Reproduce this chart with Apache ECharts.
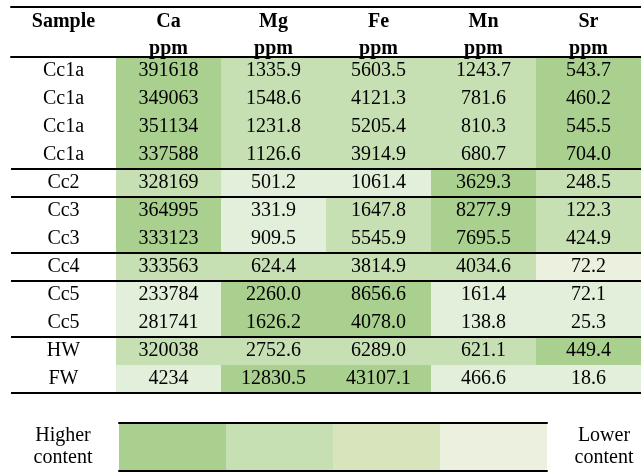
<!DOCTYPE html>
<html>
<head>
<meta charset="utf-8">
<script src="https://cdn.jsdelivr.net/npm/echarts@6.0.0/dist/echarts.min.js"></script>
<style>
  html, body { margin: 0; padding: 0; background: #fff; }
  #chart { width: 641px; height: 473px; }
</style>
</head>
<body>
<div id="chart"></div>
<script>
// ===== 表格数据 =====
const columns = ['Sample', 'Ca', 'Mg', 'Fe', 'Mn', 'Sr'];
const samples = ['Cc1a', 'Cc1a', 'Cc1a', 'Cc1a', 'Cc2', 'Cc3', 'Cc3', 'Cc4', 'Cc5', 'Cc5', 'HW', 'FW'];
const ca = ['391618', '349063', '351134', '337588', '328169', '364995', '333123', '333563', '233784', '281741', '320038', '4234'];
const mg = ['1335.9', '1548.6', '1231.8', '1126.6', '501.2', '331.9', '909.5', '624.4', '2260.0', '1626.2', '2752.6', '12830.5'];
const fe = ['5603.5', '4121.3', '5205.4', '3914.9', '1061.4', '1647.8', '5545.9', '3814.9', '8656.6', '4078.0', '6289.0', '43107.1'];
const mn = ['1243.7', '781.6', '810.3', '680.7', '3629.3', '8277.9', '7695.5', '4034.6', '161.4', '138.8', '621.1', '466.6'];
const sr = ['543.7', '460.2', '545.5', '704.0', '248.5', '122.3', '424.9', '72.2', '72.1', '25.3', '449.4', '18.6'];

// 含量等级 (0 = 最高)
const caLevel = [0, 0, 0, 0, 1, 0, 0, 1, 2, 2, 1, 2];
const mgLevel = [1, 1, 1, 1, 2, 2, 2, 1, 0, 0, 1, 0];
const feLevel = [1, 1, 1, 1, 2, 1, 1, 1, 0, 0, 1, 0];
const mnLevel = [1, 1, 1, 1, 0, 0, 0, 1, 2, 2, 1, 2];
const srLevel = [0, 0, 0, 0, 1, 1, 1, 3, 2, 2, 0, 2];

// 分组分隔线（在这些行之后）
const groupEnds = [3, 4, 6, 7, 9, 11];

const cellColors = ['#a9d08e', '#c6e0b4', '#e2efda', '#ebf1de'];
const legendLevels = ['h1', 'h2', 'h3', 'h4'];
const legendColors = ['#a9d08e', '#c6e0b4', '#d8e4bc', '#ebf1de'];

const FONT = '"Liberation Serif", "Times New Roman", serif';
const FS = 20;

// 构建单元格
const valueCols = [ca, mg, fe, mn, sr];
const levelCols = [caLevel, mgLevel, feLevel, mnLevel, srLevel];
const cells = [];
samples.forEach((s, r) => {
  cells.push([0, r, s, -1]);
  valueCols.forEach((col, c) => {
    cells.push([c + 1, r, col[r], levelCols[c][r]]);
  });
});

const chart = echarts.init(document.getElementById('chart'));

const option = {
  animation: false,
  grid: [
    { left: 11, top: 57, width: 642, height: 336 },
    { left: 119, top: 423, width: 428, height: 48 }
  ],
  xAxis: [
    {
      gridIndex: 0, type: 'category', data: columns, position: 'top', z: 10,
      axisLine: { lineStyle: { color: '#000', width: 2 } },
      axisTick: { show: false },
      axisLabel: {
        margin: -5,
        formatter: v => v === 'Sample' ? '{b|Sample}\n{b| }' : '{b|' + v + '}\n{b|ppm}',
        rich: { b: { fontFamily: FONT, fontWeight: 'bold', fontSize: FS, lineHeight: 27, color: '#000' } }
      }
    },
    {
      gridIndex: 0, type: 'category', data: columns, position: 'top', offset: 50, z: 10,
      axisLine: { lineStyle: { color: '#000', width: 2 } },
      axisTick: { show: false }, axisLabel: { show: false }
    },
    {
      gridIndex: 1, type: 'category', data: legendLevels, position: 'top', z: 10,
      axisLine: { lineStyle: { color: '#000', width: 2 } },
      axisTick: { show: false }, axisLabel: { show: false }
    },
    {
      gridIndex: 1, type: 'category', data: legendLevels, position: 'bottom', z: 10,
      axisLine: { lineStyle: { color: '#000', width: 2 } },
      axisTick: { show: false }, axisLabel: { show: false }
    }
  ],
  yAxis: [
    { gridIndex: 0, type: 'category', data: samples.map((s, i) => i), inverse: true, show: false },
    {
      gridIndex: 1, type: 'category', data: ['Higher content'], position: 'left',
      axisLine: { show: false }, axisTick: { show: false },
      axisLabel: { align: 'center', margin: 56, fontFamily: FONT, fontSize: FS, lineHeight: 22, color: '#000',
        formatter: () => 'Higher\ncontent' }
    },
    {
      gridIndex: 1, type: 'category', data: ['Lower content'], position: 'right',
      axisLine: { show: false }, axisTick: { show: false },
      axisLabel: { align: 'center', margin: 57, fontFamily: FONT, fontSize: FS, lineHeight: 22, color: '#000',
        formatter: () => 'Lower\ncontent' }
    }
  ],
  series: [
    {
      type: 'custom',
      xAxisIndex: 0, yAxisIndex: 0,
      data: cells,
      renderItem: function (params, api) {
        const c = api.value(0), r = api.value(1);
        const pt = api.coord([c, r]);
        const sz = api.size([1, 1]);
        const lvl = cells[params.dataIndex][3];
        const children = [];
        if (lvl >= 0) {
          children.push({
            type: 'rect',
            shape: { x: pt[0] - sz[0] / 2, y: pt[1] - sz[1] / 2, width: sz[0], height: sz[1] },
            style: { fill: cellColors[lvl] }
          });
        }
        children.push({
          type: 'text',
          style: {
            x: pt[0], y: pt[1], text: cells[params.dataIndex][2],
            align: 'center', verticalAlign: 'middle',
            font: FS + 'px ' + FONT, fill: '#000'
          }
        });
        return { type: 'group', children: children };
      }
    },
    {
      type: 'custom',
      xAxisIndex: 0, yAxisIndex: 0, z: 5,
      data: groupEnds.map(r => [0, r]),
      renderItem: function (params, api) {
        const pt = api.coord([0, api.value(1)]);
        const h = api.size([1, 1])[1];
        const cs = params.coordSys;
        const y = pt[1] + h / 2;
        return {
          type: 'line',
          shape: { x1: cs.x, y1: y, x2: cs.x + cs.width, y2: y },
          style: { stroke: '#000', lineWidth: 2 }
        };
      }
    },
    {
      type: 'custom',
      xAxisIndex: 2, yAxisIndex: 1,
      data: legendLevels.map((l, i) => [i, 0]),
      renderItem: function (params, api) {
        const pt = api.coord([api.value(0), 0]);
        const sz = api.size([1, 1]);
        return {
          type: 'rect',
          shape: { x: pt[0] - sz[0] / 2, y: pt[1] - sz[1] / 2, width: sz[0], height: sz[1] },
          style: { fill: legendColors[params.dataIndex] }
        };
      }
    }
  ]
};

chart.setOption(option);
</script>
</body>
</html>
